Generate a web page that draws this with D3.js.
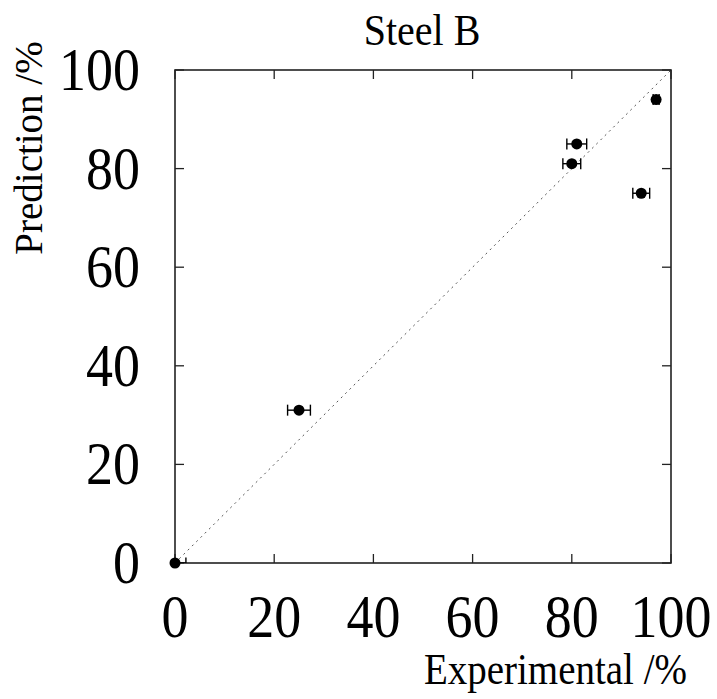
<!DOCTYPE html>
<html>
<head>
<meta charset="utf-8">
<script src="https://cdn.jsdelivr.net/npm/d3@7"></script>
<style>
  body { margin: 0; background: #fff; }
</style>
</head>
<body>
<div id="chart"></div>
<script>
const experimental = [0, 25, 80, 81, 94, 97]
const prediction = [0, 31, 81, 85, 75, 94]
const exp_err = [2.2, 2.3, 1.8, 2.0, 1.7, 0.6]
const tick_values = [0, 20, 40, 60, 80, 100]

const chart_param = {
    width: 717,
    height: 699,
    margin: { top: 70, right: 46, bottom: 136, left: 175 }
}
const font_family = '"Liberation Serif", "Times New Roman", serif'

const x = d3.scaleLinear()
            .domain([0, 100])
            .range([chart_param.margin.left, chart_param.width - chart_param.margin.right])
const y = d3.scaleLinear()
            .domain([0, 100])
            .range([chart_param.height - chart_param.margin.bottom, chart_param.margin.top])

const svg = d3.select("#chart").append("svg")
    .attr("width", chart_param.width)
    .attr("height", chart_param.height)

// text in the source is a bit taller than wide
const stretch = 1.12
const put_text = (sel, tx, ty, size, anchor) => sel
    .attr("transform", `translate(${tx},${ty}) scale(1,${stretch})`)
    .attr("font-size", size)
    .attr("font-family", font_family)
    .attr("text-anchor", anchor)

svg.append("clipPath").attr("id", "plot-clip")
    .append("rect")
    .attr("x", x(0)).attr("y", y(100))
    .attr("width", x(100) - x(0)).attr("height", y(0) - y(100))

// diagonal y = x
svg.append("line")
    .attr("x1", x(0)).attr("y1", y(0))
    .attr("x2", x(100)).attr("y2", y(100))
    .style("stroke", "#555")
    .style("stroke-width", 1)
    .style("stroke-dasharray", "2,4")

// ticks, inward on all four sides
const tick_len = 9
const tk = svg.append("g").style("stroke", "#222").style("stroke-width", 1.3)
tick_values.forEach(v => {
    tk.append("line").attr("x1", x(v)).attr("x2", x(v)).attr("y1", y(0)).attr("y2", y(0) - tick_len)
    tk.append("line").attr("x1", x(v)).attr("x2", x(v)).attr("y1", y(100)).attr("y2", y(100) + tick_len)
    tk.append("line").attr("y1", y(v)).attr("y2", y(v)).attr("x1", x(0)).attr("x2", x(0) + tick_len)
    tk.append("line").attr("y1", y(v)).attr("y2", y(v)).attr("x1", x(100)).attr("x2", x(100) - tick_len)
})

// frame
svg.append("rect")
    .attr("x", x(0)).attr("y", y(100))
    .attr("width", x(100) - x(0)).attr("height", y(0) - y(100))
    .style("fill", "none")
    .style("stroke", "#222")
    .style("stroke-width", 1.6)

// tick labels
tick_values.forEach(v => {
    svg.append("text").text(v)
        .call(put_text, x(v), y(0) + 74, 54, "middle")
    svg.append("text").text(v)
        .call(put_text, x(0) - 35, y(v) + 20, 54, "end")
})

// error bars (clipped to the plot) + points
const pts = experimental.map((d, i) => ({ ex: d, pr: prediction[i], err: exp_err[i] }))
const cap = 5.5
const eb = svg.append("g")
    .attr("clip-path", "url(#plot-clip)")
    .style("stroke", "#000").style("stroke-width", 1.4)
pts.forEach(d => {
    eb.append("line").attr("x1", x(d.ex - d.err)).attr("x2", x(d.ex + d.err)).attr("y1", y(d.pr)).attr("y2", y(d.pr))
    eb.append("line").attr("x1", x(d.ex - d.err)).attr("x2", x(d.ex - d.err)).attr("y1", y(d.pr) - cap).attr("y2", y(d.pr) + cap)
    eb.append("line").attr("x1", x(d.ex + d.err)).attr("x2", x(d.ex + d.err)).attr("y1", y(d.pr) - cap).attr("y2", y(d.pr) + cap)
})
svg.selectAll(".pt")
    .data(pts).enter()
    .append("circle")
    .classed("pt", true)
    .attr("cx", d => x(d.ex))
    .attr("cy", d => y(d.pr))
    .attr("r", 5.5)
    .style("fill", "#000")

// title and axis labels
svg.append("text").text("Steel B")
    .call(put_text, 422, 45, 40, "middle")
svg.append("text").text("Experimental /%")
    .call(put_text, 687, 684, 39, "end")
svg.append("text").text("Prediction /%")
    .attr("transform", "translate(42,148) rotate(-90)")
    .attr("font-size", 39)
    .attr("font-family", font_family)
    .attr("text-anchor", "middle")
</script>
</body>
</html>
